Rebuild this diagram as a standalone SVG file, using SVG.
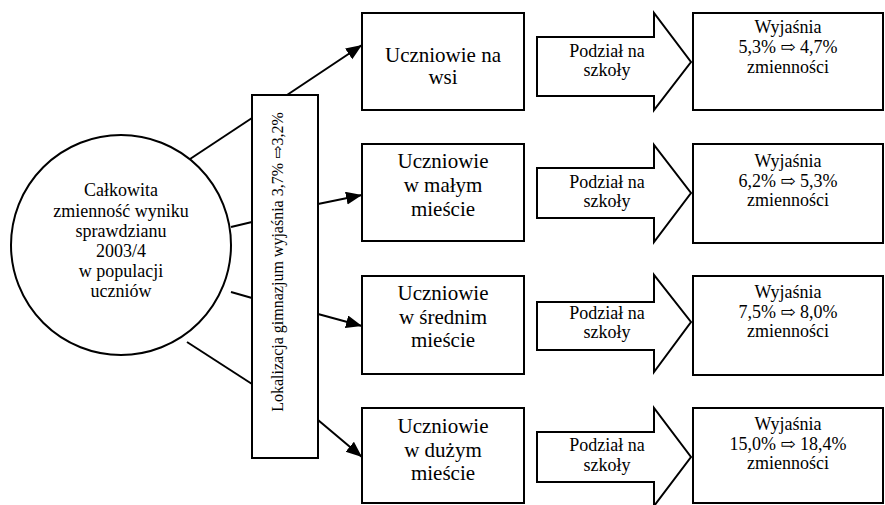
<svg xmlns="http://www.w3.org/2000/svg" width="885" height="505" viewBox="0 0 885 505">
  <style>
    .shape { fill: #ffffff; stroke: #000000; stroke-width: 2; }
    .conn { fill: none; stroke: #000000; stroke-width: 2; }
    text { font-family: "Liberation Serif", "Times New Roman", "DejaVu Serif", serif; fill: #000000; text-anchor: middle; }
    .c { font-size: 18px; }
    .u { font-size: 21px; }
    .p { font-size: 18px; }
    .r { font-size: 18px; }
    .v { font-size: 16px; }
  </style>
  <defs>
    <marker id="ah" markerUnits="userSpaceOnUse" markerWidth="18" markerHeight="14" refX="16" refY="6.5" orient="auto">
      <path d="M0,0 L16,6.5 L0,13 z" fill="#000000"/>
    </marker>
  </defs>
  <rect width="885" height="505" fill="#ffffff"/>

  <g id="connectors">
    <line class="conn" x1="187" y1="161" x2="252" y2="118"/>
    <line class="conn" x1="231" y1="227" x2="252" y2="222"/>
    <line class="conn" x1="231" y1="292" x2="252" y2="298"/>
    <line class="conn" x1="187" y1="342" x2="252" y2="384"/>
    <line class="conn" x1="287" y1="95" x2="362" y2="45" marker-end="url(#ah)"/>
    <line class="conn" x1="318" y1="204" x2="362" y2="195" marker-end="url(#ah)"/>
    <line class="conn" x1="318" y1="314" x2="362" y2="326" marker-end="url(#ah)"/>
    <line class="conn" x1="318" y1="420" x2="362" y2="457" marker-end="url(#ah)"/>
  </g>

  <g id="total">
    <circle class="shape" cx="121" cy="245" r="110"/>
    <text class="c" x="121" y="196">Całkowita</text>
    <text class="c" x="121" y="217">zmienność wyniku</text>
    <text class="c" x="121" y="237">sprawdzianu</text>
    <text class="c" x="121" y="257">2003/4</text>
    <text class="c" x="121" y="277">w populacji</text>
    <text class="c" x="121" y="297">uczniów</text>
  </g>

  <g id="lokalizacja">
    <rect class="shape" x="252" y="95" width="66" height="363"/>
    <text class="v" transform="translate(283,262) rotate(-90)" x="0" y="0">Lokalizacja gimnazjum wyjaśnia 3,7% ⇨3,2%</text>
  </g>

  <g id="wies">
    <rect class="shape" x="362" y="13" width="162" height="97"/>
    <text class="u" x="443" y="62">Uczniowie na</text>
    <text class="u" x="443" y="84">wsi</text>
  </g>
  <g id="male">
    <rect class="shape" x="362" y="144" width="162" height="97"/>
    <text class="u" x="443" y="168">Uczniowie</text>
    <text class="u" x="443" y="192">w małym</text>
    <text class="u" x="443" y="216">mieście</text>
  </g>
  <g id="srednie">
    <rect class="shape" x="362" y="276" width="162" height="98"/>
    <text class="u" x="443" y="300">Uczniowie</text>
    <text class="u" x="443" y="324">w średnim</text>
    <text class="u" x="443" y="347">mieście</text>
  </g>
  <g id="duze">
    <rect class="shape" x="362" y="408" width="162" height="95"/>
    <text class="u" x="443" y="433">Uczniowie</text>
    <text class="u" x="443" y="457">w dużym</text>
    <text class="u" x="443" y="480">mieście</text>
  </g>

  <g id="podzial1">
    <polygon class="shape" points="537,37 654,37 654,13 691,62 654,110 654,96 537,96"/>
    <text class="p" x="607" y="57">Podział na</text>
    <text class="p" x="607" y="76">szkoły</text>
  </g>
  <g id="podzial2">
    <polygon class="shape" points="537,168 654,168 654,145 691,193 654,242 654,218 537,218"/>
    <text class="p" x="607" y="188">Podział na</text>
    <text class="p" x="607" y="207">szkoły</text>
  </g>
  <g id="podzial3">
    <polygon class="shape" points="537,302 654,302 654,275 691,322 654,372 654,350 537,350"/>
    <text class="p" x="607" y="319">Podział na</text>
    <text class="p" x="607" y="338">szkoły</text>
  </g>
  <g id="podzial4">
    <polygon class="shape" points="537,432 654,432 654,408 691,457 654,506 654,482 537,482"/>
    <text class="p" x="607" y="451">Podział na</text>
    <text class="p" x="607" y="471">szkoły</text>
  </g>

  <g id="wynik1">
    <rect class="shape" x="693" y="13" width="190" height="97"/>
    <text class="r" x="788" y="33">Wyjaśnia</text>
    <text class="r" x="788" y="53">5,3% ⇨ 4,7%</text>
    <text class="r" x="788" y="73">zmienności</text>
  </g>
  <g id="wynik2">
    <rect class="shape" x="693" y="144" width="190" height="99"/>
    <text class="r" x="788" y="167">Wyjaśnia</text>
    <text class="r" x="788" y="187">6,2% ⇨ 5,3%</text>
    <text class="r" x="788" y="206">zmienności</text>
  </g>
  <g id="wynik3">
    <rect class="shape" x="693" y="276" width="190" height="99"/>
    <text class="r" x="788" y="298">Wyjaśnia</text>
    <text class="r" x="788" y="318">7,5% ⇨ 8,0%</text>
    <text class="r" x="788" y="337">zmienności</text>
  </g>
  <g id="wynik4">
    <rect class="shape" x="693" y="408" width="190" height="95"/>
    <text class="r" x="788" y="430">Wyjaśnia</text>
    <text class="r" x="788" y="450">15,0% ⇨ 18,4%</text>
    <text class="r" x="788" y="469">zmienności</text>
  </g>
</svg>
